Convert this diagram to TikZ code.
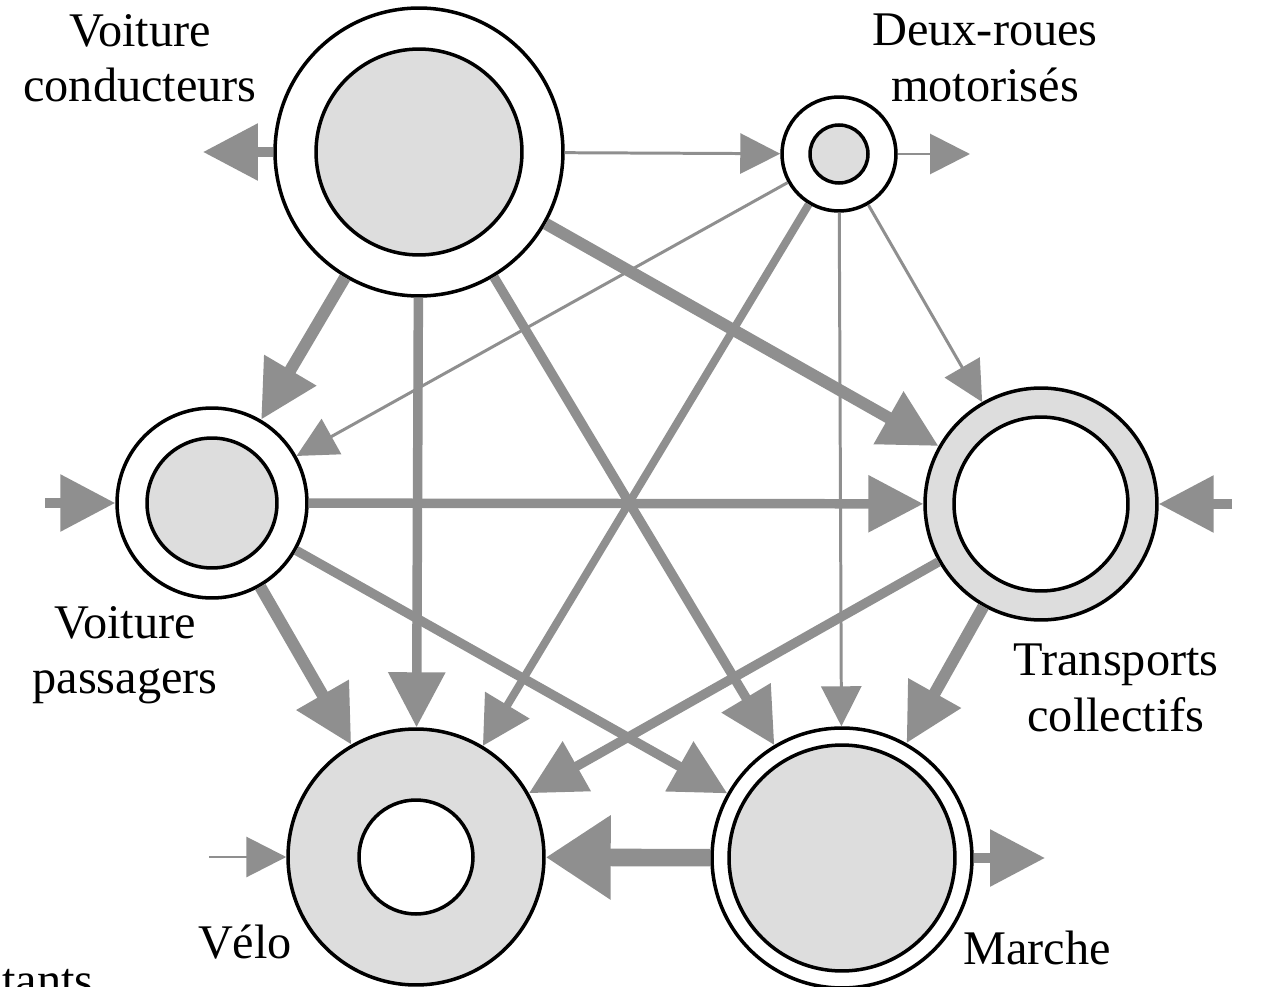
\documentclass[tikz,border=0pt]{standalone}
\usepackage{fontspec}
\setmainfont{Liberation Serif}
\usetikzlibrary{arrows.meta}
\definecolor{flowgray}{RGB}{143,143,143}
\definecolor{fillgray}{RGB}{221,221,221}
\tikzset{
    ring/.style = {
        circle, draw, line width=2pt, inner sep=0pt, minimum size=#1
    },
    modelabel/.style = {
        align=center, font=\fontsize{27.5}{31.5}\selectfont
    },
}
\tikzset{
    thinflow/.style  = {draw=flowgray, line width=1.7pt, -{Triangle[width=0.8cm,length=0.8cm]}},
    midflow/.style   = {draw=flowgray, line width=4.5pt, -{Triangle[width=1cm,length=0.95cm]}},
    flow/.style      = {draw=flowgray, line width=5.4pt, -{Triangle[width=1.1cm,length=1.1cm]}},
    thickflow/.style = {draw=flowgray, line width=6.8pt, -{Triangle[width=1.15cm,length=1.15cm]}},
    bigflow/.style   = {draw=flowgray, line width=10pt, -{Triangle[width=1.6cm,length=1.3cm]}},
}

\begin{document}
\begin{tikzpicture}[x=0.02cm, y=-0.02cm]
        \useasboundingbox (0,0) rectangle (1276,987);
        \clip (0,0) rectangle (1276,987);

        % Place the circles
        \node[ring=5.76cm, fill=white] (vc) at (419,152) {};
        \node[ring=4.12cm, fill=fillgray] (vcin) at (vc) {};
        \node[ring=2.28cm, fill=white] (dr) at (839,154) {};
        \node[ring=1.16cm, fill=fillgray] (drin) at (dr) {};
        \node[ring=3.8cm, fill=white] (vp) at (212,503) {};
        \node[ring=2.6cm, fill=fillgray] (vpin) at (vp) {};
        \node[ring=4.64cm, fill=fillgray] (tc) at (1041,504) {};
        \node[ring=3.48cm, fill=white] (tcin) at (tc) {};
        \node[ring=5.12cm, fill=fillgray] (velo) at (416,857) {};
        \node[ring=2.28cm, fill=white] (veloin) at (velo) {};
        \node[ring=5.2cm, fill=white] (marche) at (842,858) {};
        \node[ring=4.52cm, fill=fillgray] (marchein) at (marche) {};

        % Place the labels
        \node[modelabel] (vclabel) at (140,58) {Voiture\\conducteurs};
        \node[modelabel] (drlabel) at (985,58) {Deux-roues\\motorisés};
        \node[modelabel] (vplabel) at (125,655) {Voiture\\passagers};
        \node[modelabel] (tclabel) at (1116,688) {Transports\\collectifs};
        \node[modelabel] (velolabel) at (245,942) {Vélo};
        \node[modelabel] (marchelabel) at (1037,948) {Marche};
        \node[modelabel, anchor=base west, inner sep=0pt] (tants) at (2,996) {tants};

        % Free ends of the outside flows
        \coordinate (vcout) at (203,152);
        \coordinate (drout) at (970,154);
        \coordinate (vpsrc) at (45,503);
        \coordinate (tcsrc) at (1232,504);
        \coordinate (velosrc) at (209,857);
        \coordinate (marcheout) at (1045,858);

        % Draw connections
        \draw[flow] (vc) -- (vcout);
        \draw[thinflow] (vc) -- (dr);
        \draw[thinflow] (dr) -- (drout);
        \draw[thickflow] (vc) -- (vp);
        \draw[flow] (vc) -- (velo);
        \draw[flow] (vc) -- (marche);
        \draw[thickflow] (vc) -- (tc);
        \draw[thinflow] (dr) -- (vp);
        \draw[midflow] (dr) -- (velo);
        \draw[thinflow] (dr) -- (marche);
        \draw[thinflow] (dr) -- (tc);
        \draw[flow] (vpsrc) -- (vp);
        \draw[flow] (vp) -- (tc);
        \draw[flow] (vp) -- (marche);
        \draw[thickflow] (vp) -- (velo);
        \draw[flow] (tc) -- (velo);
        \draw[thickflow] (tc) -- (marche);
        \draw[flow] (tcsrc) -- (tc);
        \draw[bigflow] (marche) -- (velo);
        \draw[flow] (marche) -- (marcheout);
        \draw[thinflow] (velosrc) -- (velo);
\end{tikzpicture}
\end{document}
